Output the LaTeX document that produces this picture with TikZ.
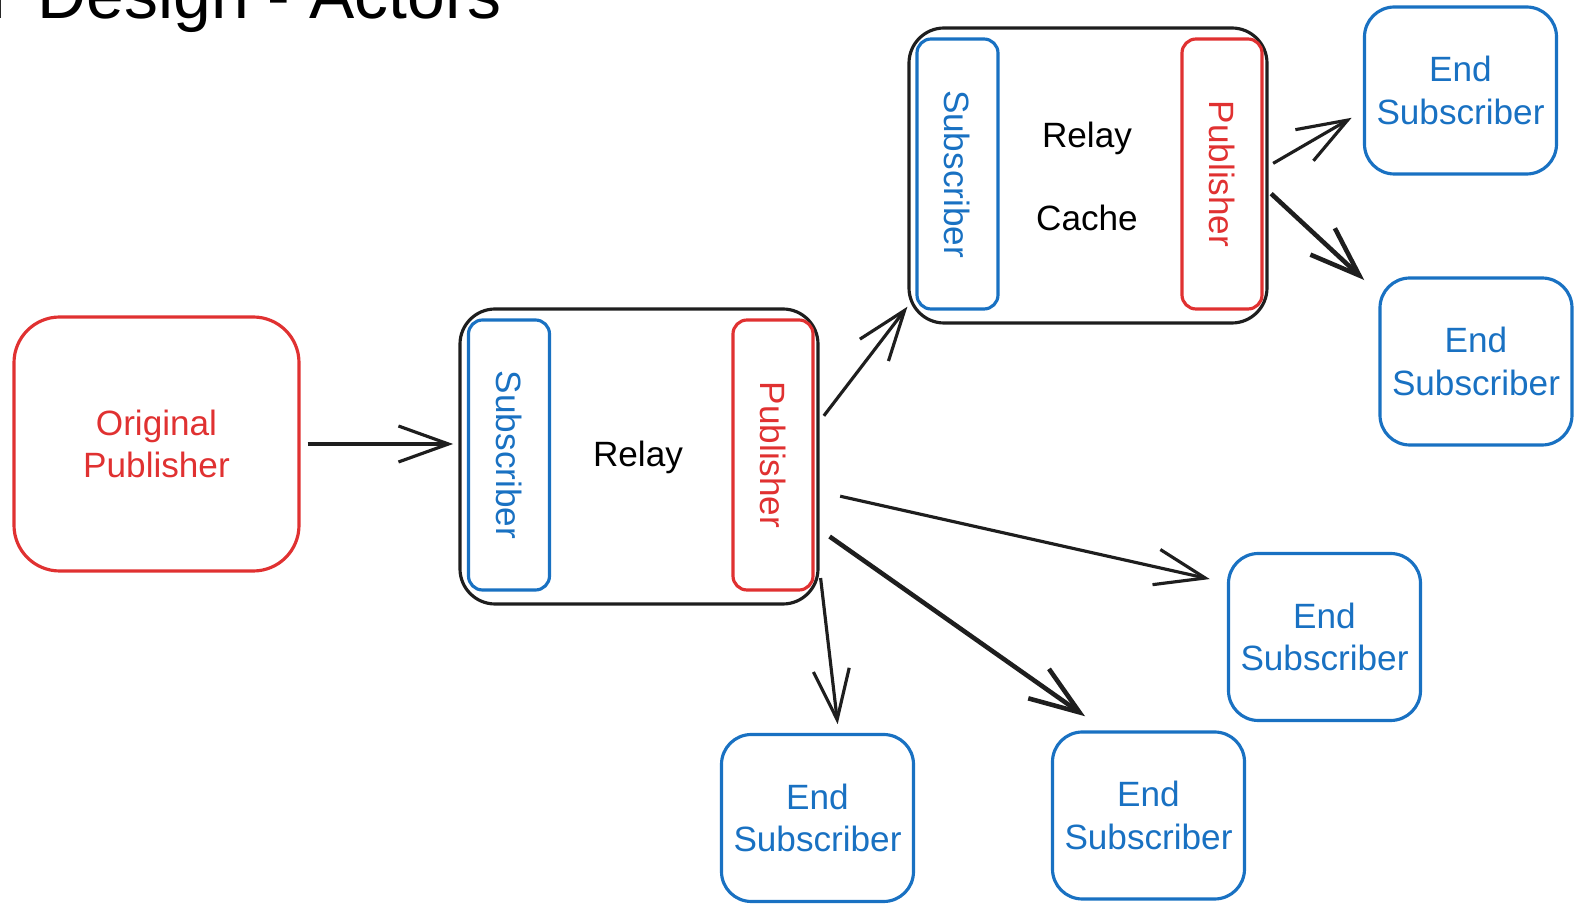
\documentclass[tikz,border=0pt]{standalone}
\usepackage{fontspec}
\setmainfont{Liberation Sans}
\usepackage{tikz}
\usepackage{xcolor}
\usetikzlibrary{
    arrows.meta,
    calc,
    positioning
}
\definecolor{pubred}{HTML}{E03131}
\definecolor{subblue}{HTML}{1971C2}
\definecolor{ink}{HTML}{1E1E1E}

\begin{document}
\begin{tikzpicture}[
    font=\fontsize{10}{12}\selectfont,
    >={Straight Barb[length=5mm,width=3.6mm]},
    line width=0.9pt,
    relaybox/.style={draw=ink, rounded corners=10pt, minimum width=3.58cm, minimum height=2.95cm},
    subpart/.style={draw=subblue, text=subblue, rounded corners=4pt, rotate=-90, minimum width=2.7cm, minimum height=0.81cm},
    pubpart/.style={draw=pubred, text=pubred, rounded corners=4pt, rotate=-90, minimum width=2.7cm, minimum height=0.8cm},
    origpub/.style={draw=pubred, text=pubred, rounded corners=13pt, minimum width=2.85cm, minimum height=2.54cm, align=center},
    endsub/.style={draw=subblue, text=subblue, rounded corners=8.5pt, minimum width=1.92cm, minimum height=1.67cm, align=center},
    flow/.style={draw=ink, ->},
    thickflow/.style={draw=ink, ->, line width=1.3pt}
]
                                    \useasboundingbox (0, 0) rectangle (15.78, -9.04);
                                    \node[anchor=base east, font=\fontsize{19.3}{22}\selectfont] (title) at (5.15, -0.185) {T Design - Actors};
                                    \node[origpub] (op) at (1.565, -4.44) {Original\\Publisher};
                                    \node[relaybox] (relay1) at (6.39, -4.565) {};
                                    \node[subpart] (sub1) at (5.09, -4.55) {Subscriber};
                                    \node[pubpart] (pub1) at (7.73, -4.55) {Publisher};
                                    \node (relay1txt) at (6.38, -4.57) {Relay};
                                    \node[relaybox] (relay2) at (10.88, -1.755) {};
                                    \node[subpart] (sub2) at (9.575, -1.74) {Subscriber};
                                    \node[pubpart] (pub2) at (12.22, -1.74) {Publisher};
                                    \node (relay2txt) at (10.87, -1.38) {Relay};
                                    \node (cache) at (10.87, -2.18) {Cache};
                                    \node[endsub] (es1) at (14.605, -0.905) {End\\Subscriber};
                                    \node[endsub] (es2) at (14.76, -3.615) {End\\Subscriber};
                                    \node[endsub] (es3) at (13.245, -6.37) {End\\Subscriber};
                                    \node[endsub] (es4) at (11.485, -8.155) {End\\Subscriber};
                                    \node[endsub] (es5) at (8.175, -8.18) {End\\Subscriber};
                                    \draw
                                    (op.east) edge[flow, shorten <=2pt, shorten >=1.5pt] (op.east -| relay1.west)
                                    (relay1.11.7) edge[flow, shorten <=2pt] (relay2.216)
                                    (relay2.3.6) edge[flow, shorten <=1.5pt, shorten >=3.7pt] (es1.192)
                                    (relay2.355.1) edge[thickflow, shorten <=1pt, shorten >=5.5pt] (es2.145)
                                    (relay1.349.7) edge[flow, shorten <=6pt, shorten >=5pt] (es3.151)
                                    (relay1.338.2) edge[thickflow, shorten <=3.5pt, shorten >=7pt] (es4.117.5)
                                    (relay1.328.5) edge[flow, shorten <=2.5pt, shorten >=2.5pt] (es5.76.5);
                                \end{tikzpicture}
\end{document}
